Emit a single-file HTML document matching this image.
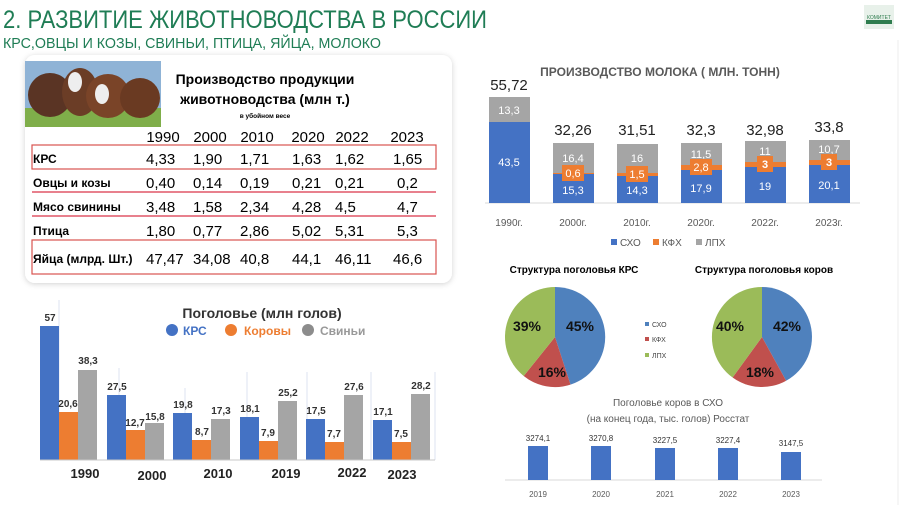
<!DOCTYPE html>
<html><head><meta charset="utf-8"><style>
html,body{margin:0;padding:0;background:#fff;}
svg{display:block;font-family:"Liberation Sans","DejaVu Sans",sans-serif;}
</style></head><body>
<svg width="900" height="505" viewBox="0 0 900 505" xmlns="http://www.w3.org/2000/svg">
<defs>
<filter id="sh" x="-5%" y="-5%" width="110%" height="115%"><feDropShadow dx="0" dy="1" stdDeviation="3" flood-color="#000" flood-opacity="0.18"/></filter>
</defs>
<rect width="900" height="505" fill="#fff"/>
<text x="3" y="28" font-size="25" fill="#1f7d55" textLength="484" lengthAdjust="spacingAndGlyphs">2. РАЗВИТИЕ ЖИВОТНОВОДСТВА В РОССИИ</text>
<text x="3" y="48" font-size="15" fill="#1f7d55" textLength="378" lengthAdjust="spacingAndGlyphs">КРС,ОВЦЫ И КОЗЫ, СВИНЬИ, ПТИЦА, ЯЙЦА, МОЛОКО</text>
<rect x="864" y="5" width="30" height="24" fill="#e8f1ea"/>
<rect x="866" y="20" width="26" height="4" fill="#2f7d4f"/>
<text x="879" y="19" font-size="5" fill="#2f7d4f" text-anchor="middle">КОМИТЕТ</text>

<rect x="25" y="55" width="427" height="228" rx="10" fill="#fff" filter="url(#sh)"/>
<rect x="25" y="61" width="136" height="66" fill="#8fb3d6"/>
<rect x="25" y="108" width="136" height="19" fill="#7fae4a"/>
<ellipse cx="50" cy="95" rx="22" ry="22" fill="#5a3424"/>
<ellipse cx="80" cy="92" rx="18" ry="24" fill="#6b3d26"/>
<ellipse cx="108" cy="96" rx="22" ry="22" fill="#7a4428"/>
<ellipse cx="140" cy="98" rx="20" ry="20" fill="#6a3a22"/>
<ellipse cx="75" cy="82" rx="7" ry="10" fill="#eee"/>
<ellipse cx="102" cy="94" rx="7" ry="10" fill="#eee"/>
<text x="265" y="84" font-size="14" font-weight="bold" text-anchor="middle">Производство продукции</text>
<text x="265" y="104" font-size="14" font-weight="bold" text-anchor="middle">животноводства (млн т.)</text>
<text x="265" y="118" font-size="6.5" font-weight="bold" text-anchor="middle">в убойном весе</text>
<g font-size="15" text-anchor="middle">
<text x="163" y="142">1990</text><text x="210" y="142">2000</text><text x="257" y="142">2010</text><text x="308" y="142">2020</text><text x="352" y="142">2022</text><text x="407" y="142">2023</text>
</g>
<rect x="32" y="145" width="404" height="24" fill="none" stroke="#d9534f" stroke-width="1.2"/>
<line x1="32" y1="192" x2="436" y2="192" stroke="#d0021b" stroke-width="1"/>
<line x1="32" y1="216" x2="436" y2="216" stroke="#d0021b" stroke-width="1"/>
<rect x="32" y="240" width="404" height="34" fill="none" stroke="#d9534f" stroke-width="1.2"/>
<g font-size="12" font-weight="bold">
<text x="33" y="163">КРС</text><text x="33" y="187">Овцы и козы</text><text x="33" y="211">Мясо свинины</text><text x="33" y="235">Птица</text><text x="33" y="263">Яйца (млрд. Шт.)</text>
</g>
<g font-size="15">
<text y="164"><tspan x="146">4,33</tspan><tspan x="193">1,90</tspan><tspan x="240">1,71</tspan><tspan x="292">1,63</tspan><tspan x="335">1,62</tspan><tspan x="393">1,65</tspan></text>
<text y="188"><tspan x="146">0,40</tspan><tspan x="193">0,14</tspan><tspan x="240">0,19</tspan><tspan x="292">0,21</tspan><tspan x="335">0,21</tspan><tspan x="397">0,2</tspan></text>
<text y="212"><tspan x="146">3,48</tspan><tspan x="193">1,58</tspan><tspan x="240">2,34</tspan><tspan x="292">4,28</tspan><tspan x="335">4,5</tspan><tspan x="397">4,7</tspan></text>
<text y="236"><tspan x="146">1,80</tspan><tspan x="193">0,77</tspan><tspan x="240">2,86</tspan><tspan x="292">5,02</tspan><tspan x="335">5,31</tspan><tspan x="397">5,3</tspan></text>
<text y="264"><tspan x="146">47,47</tspan><tspan x="193">34,08</tspan><tspan x="240">40,8</tspan><tspan x="292">44,1</tspan><tspan x="335">46,11</tspan><tspan x="393">46,6</tspan></text>
</g>

<g stroke="#dde3f0" stroke-width="1">
<line x1="59" y1="300" x2="59" y2="460"/><line x1="119" y1="368" x2="119" y2="460"/><line x1="185" y1="388" x2="185" y2="460"/><line x1="247" y1="372" x2="247" y2="460"/><line x1="307" y1="372" x2="307" y2="460"/><line x1="371" y1="372" x2="371" y2="460"/><line x1="435" y1="372" x2="435" y2="460"/>
</g>
<text x="262" y="318" font-size="14" font-weight="bold" text-anchor="middle" fill="#333">Поголовье (млн голов)</text>
<circle cx="172" cy="330" r="6" fill="#4472c4"/><text x="183" y="335" font-size="12" font-weight="bold" fill="#4472c4">КРС</text>
<circle cx="231" cy="330" r="6" fill="#ed7d31"/><text x="244" y="335" font-size="12" font-weight="bold" fill="#ed7d31">Коровы</text>
<circle cx="308" cy="330" r="6" fill="#8c8c8c"/><text x="320" y="335" font-size="12" font-weight="bold" fill="#999">Свиньи</text>
<g font-size="10" font-weight="bold" fill="#333" text-anchor="middle">
<rect x="40" y="326" width="19" height="134" fill="#4472c4"/><rect x="59" y="412" width="19" height="48" fill="#ed7d31"/><rect x="78" y="370" width="19" height="90" fill="#a5a5a5"/>
<text x="50" y="321">57</text><text x="68" y="407">20,6</text><text x="88" y="364">38,3</text>
<rect x="107" y="395" width="19" height="65" fill="#4472c4"/><rect x="126" y="430" width="19" height="30" fill="#ed7d31"/><rect x="145" y="423" width="19" height="37" fill="#a5a5a5"/>
<text x="117" y="390">27,5</text><text x="135" y="426">12,7</text><text x="155" y="420">15,8</text>
<rect x="173" y="413" width="19" height="47" fill="#4472c4"/><rect x="192" y="440" width="19" height="20" fill="#ed7d31"/><rect x="211" y="419" width="19" height="41" fill="#a5a5a5"/>
<text x="183" y="408">19,8</text><text x="202" y="435">8,7</text><text x="221" y="414">17,3</text>
<rect x="240" y="417" width="19" height="43" fill="#4472c4"/><rect x="259" y="441" width="19" height="19" fill="#ed7d31"/><rect x="278" y="401" width="19" height="59" fill="#a5a5a5"/>
<text x="250" y="412">18,1</text><text x="268" y="436">7,9</text><text x="288" y="396">25,2</text>
<rect x="306" y="419" width="19" height="41" fill="#4472c4"/><rect x="325" y="442" width="19" height="18" fill="#ed7d31"/><rect x="344" y="395" width="19" height="65" fill="#a5a5a5"/>
<text x="316" y="414">17,5</text><text x="334" y="437">7,7</text><text x="354" y="390">27,6</text>
<rect x="373" y="420" width="19" height="40" fill="#4472c4"/><rect x="392" y="442" width="19" height="18" fill="#ed7d31"/><rect x="411" y="394" width="19" height="66" fill="#a5a5a5"/>
<text x="383" y="415">17,1</text><text x="401" y="437">7,5</text><text x="421" y="389">28,2</text>
</g>
<line x1="40" y1="460" x2="435" y2="460" stroke="#c8c8c8"/>
<g font-size="13" font-weight="bold" fill="#222" text-anchor="middle">
<text x="85" y="478">1990</text><text x="152" y="480">2000</text><text x="218" y="478">2010</text><text x="286" y="478">2019</text><text x="352" y="477">2022</text><text x="402" y="479">2023</text>
</g>

<text x="660" y="76" font-size="12" font-weight="bold" fill="#595959" text-anchor="middle">ПРОИЗВОДСТВО МОЛОКА ( МЛН. ТОНН)</text>
<line x1="485" y1="203" x2="860" y2="203" stroke="#d9d9d9"/>
<g font-size="11" fill="#fff" text-anchor="middle">
<rect x="489" y="122" width="41" height="81" fill="#4472c4"/><rect x="489" y="97" width="41" height="25" fill="#a5a5a5"/>
<text x="509" y="166">43,5</text><text x="509" y="114">13,3</text>
<rect x="553" y="174" width="41" height="29" fill="#4472c4"/><rect x="553" y="173" width="41" height="1" fill="#ed7d31"/><rect x="553" y="143" width="41" height="30" fill="#a5a5a5"/>
<text x="573" y="194">15,3</text><text x="573" y="162">16,4</text>
<rect x="562" y="165" width="22" height="16" fill="#ed7d31"/><text x="573" y="177">0,6</text>
<rect x="617" y="176" width="41" height="27" fill="#4472c4"/><rect x="617" y="173" width="41" height="3" fill="#ed7d31"/><rect x="617" y="144" width="41" height="29" fill="#a5a5a5"/>
<text x="637" y="194">14,3</text><text x="637" y="162">16</text>
<rect x="626" y="166" width="22" height="16" fill="#ed7d31"/><text x="637" y="178">1,5</text>
<rect x="681" y="170" width="41" height="33" fill="#4472c4"/><rect x="681" y="165" width="41" height="5" fill="#ed7d31"/><rect x="681" y="143" width="41" height="22" fill="#a5a5a5"/>
<text x="701" y="192">17,9</text><text x="701" y="158">11,5</text>
<rect x="690" y="159" width="22" height="16" fill="#ed7d31"/><text x="701" y="171">2,8</text>
<rect x="745" y="167" width="41" height="36" fill="#4472c4"/><rect x="745" y="162" width="41" height="5" fill="#ed7d31"/><rect x="745" y="141" width="41" height="21" fill="#a5a5a5"/>
<text x="765" y="190">19</text><text x="765" y="155">11</text>
<rect x="757" y="156" width="16" height="16" fill="#ed7d31"/><text x="765" y="168" font-weight="bold">3</text>
<rect x="809" y="165" width="41" height="38" fill="#4472c4"/><rect x="809" y="160" width="41" height="5" fill="#ed7d31"/><rect x="809" y="140" width="41" height="20" fill="#a5a5a5"/>
<text x="829" y="189">20,1</text><text x="829" y="153">10,7</text>
<rect x="821" y="154" width="16" height="16" fill="#ed7d31"/><text x="829" y="166" font-weight="bold">3</text>
</g>
<g font-size="15" fill="#222" text-anchor="middle">
<text x="509" y="90">55,72</text><text x="573" y="135">32,26</text><text x="637" y="135">31,51</text><text x="701" y="135">32,3</text><text x="765" y="135">32,98</text><text x="829" y="132">33,8</text>
</g>
<g font-size="10" fill="#595959" text-anchor="middle">
<text x="509" y="226">1990г.</text><text x="573" y="226">2000г.</text><text x="637" y="226">2010г.</text><text x="701" y="226">2020г.</text><text x="765" y="226">2022г.</text><text x="829" y="226">2023г.</text>
</g>
<g font-size="10" fill="#595959">
<rect x="611" y="239" width="6" height="6" fill="#4472c4"/><text x="620" y="246">СХО</text>
<rect x="653" y="239" width="6" height="6" fill="#ed7d31"/><text x="662" y="246">КФХ</text>
<rect x="696" y="239" width="6" height="6" fill="#a5a5a5"/><text x="705" y="246">ЛПХ</text>
</g>

<text x="574" y="273" font-size="10" font-weight="bold" text-anchor="middle">Структура поголовья КРС</text>
<text x="764" y="273" font-size="10" font-weight="bold" text-anchor="middle">Структура поголовья коров</text>
<path d="M555,337 L555,287 A50,50 0 0 1 570.5,384.6 Z" fill="#4f81bd"/>
<path d="M555,337 L570.5,384.6 A50,50 0 0 1 523.7,376.0 Z" fill="#c0504d"/>
<path d="M555,337 L523.7,376.0 A50,50 0 0 1 555,287 Z" fill="#9bbb59"/>
<path d="M762,337 L762,287 A50,50 0 0 1 786.1,380.8 Z" fill="#4f81bd"/>
<path d="M762,337 L786.1,380.8 A50,50 0 0 1 732.6,377.5 Z" fill="#c0504d"/>
<path d="M762,337 L732.6,377.5 A50,50 0 0 1 762,287 Z" fill="#9bbb59"/>
<g font-size="14" font-weight="bold" fill="#111" text-anchor="middle">
<text x="527" y="331">39%</text><text x="580" y="331">45%</text><text x="552" y="377">16%</text>
<text x="730" y="331">40%</text><text x="787" y="331">42%</text><text x="760" y="377">18%</text>
</g>
<g font-size="7" fill="#444">
<rect x="645" y="322" width="4" height="4" fill="#4f81bd"/><text x="652" y="327">СХО</text>
<rect x="645" y="337" width="4" height="4" fill="#c0504d"/><text x="652" y="342">КФХ</text>
<rect x="645" y="353" width="4" height="4" fill="#9bbb59"/><text x="652" y="358">ЛПХ</text>
</g>

<text x="668" y="406" font-size="10" fill="#595959" text-anchor="middle">Поголовье коров в СХО</text>
<text x="668" y="422" font-size="10" fill="#595959" text-anchor="middle">(на конец года, тыс. голов) Росстат</text>
<line x1="505" y1="480" x2="822" y2="480" stroke="#d9d9d9"/>
<g fill="#4472c4">
<rect x="528" y="446" width="20" height="34"/><rect x="591" y="446" width="20" height="34"/><rect x="655" y="448" width="20" height="32"/><rect x="718" y="448" width="20" height="32"/><rect x="781" y="452" width="20" height="28"/>
</g>
<g font-size="8" fill="#333" text-anchor="middle">
<text x="538" y="441">3274,1</text><text x="601" y="441">3270,8</text><text x="665" y="443">3227,5</text><text x="728" y="443">3227,4</text><text x="791" y="446">3147,5</text>
</g>
<g font-size="8" fill="#595959" text-anchor="middle">
<text x="538" y="497">2019</text><text x="601" y="497">2020</text><text x="665" y="497">2021</text><text x="728" y="497">2022</text><text x="791" y="497">2023</text>
</g>
<line x1="898" y1="40" x2="898" y2="505" stroke="#eee"/>
</svg>
</body></html>
